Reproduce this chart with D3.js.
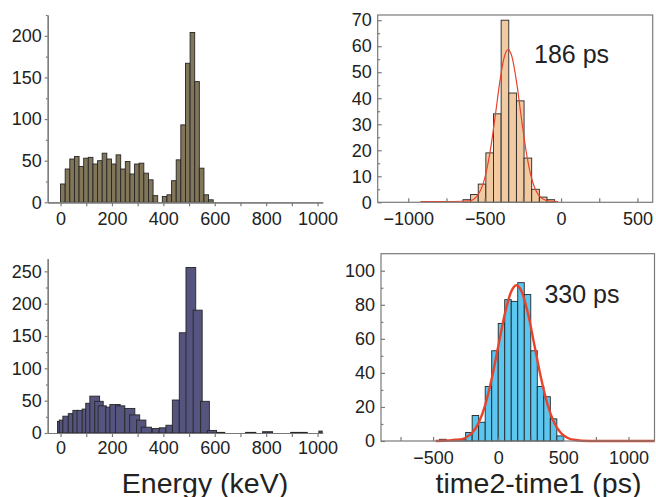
<!DOCTYPE html>
<html>
<head>
<meta charset="utf-8">
<script src="https://cdn.jsdelivr.net/npm/d3@7"></script>
<style>
  body { margin: 0; background: #fff; }
  svg { display: block; font-family: "Liberation Sans", Arial, sans-serif; }
</style>
</head>
<body>
<div id="chart"></div>
<script>
// ---- data ----
// top left: energy histogram, 18 keV bins starting at 0
const energyTopStart = 0;
const energyTopBin = 18;
const energyTopCounts = [22, 40, 52, 55, 43, 53, 54, 46, 50, 59, 52, 46, 57, 40, 49, 34, 46, 47, 35, 27, 8,
  0, 7, 9, 26, 51, 93, 167, 204, 145, 41, 9, 3];

// bottom left: energy histogram with uneven, overlapping bins (keV)
const energyBotLo = [-12, -5, 9, 30, 48, 64, 84, 98, 114, 133, 146, 176, 192, 214, 250, 269, 296, 314,
  358, 384, 410, 435, 462, 488, 516, 545, 571, 607, 720, 786, 895, 1005];
const energyBotHi = [0, 10, 30, 49, 68, 85, 100, 116, 152, 166, 178, 194, 232, 250, 289, 308, 332, 354,
  384, 410, 435, 462, 490, 526, 551, 579, 607, 639, 760, 825, 960, 1018];
const energyBotCounts = [18, 20, 26, 30, 35, 35, 37, 46, 57, 49, 42, 40, 44, 42, 38, 28, 20, 9,
  7, 8, 12, 51, 155, 256, 190, 49, 4, 1, 1, 2, 1, 3];

// top right: time difference histogram, 50 ps bins
const timeTopStart = -642;
const timeTopBin = 50;
const timeTopCounts = [1, 3, 7, 19, 34, 70, 42, 39, 17, 5, 2, 1];
const fitTopX = [-920, -700, -600, -550, -500, -460, -430, -400, -375, -346, -320, -290, -260, -230, -200, -150, -100, -50, -20];
const fitTopY = [0.3, 0.3, 0.6, 2.4, 9.1, 21, 33.5, 46.6, 55, 58.8, 55.7, 45.8, 32.6, 20.2, 10.9, 3, 0.8, 0.35, 0.3];
const fwhmTop = '186 ps';

// bottom right: time difference histogram, 50 ps bins
const timeBotStart = -450;
const timeBotBin = 50;
const timeBotCounts = [1, 0, 1, 1, 5, 15, 11, 32, 53, 69, 83, 82, 93, 86, 53, 32, 26, 13, 3];
const fitBotX = [-480, -300, -250, -200, -150, -100, -50, 0, 50, 100, 140, 180, 230, 280, 330, 380, 430, 480, 530, 580, 700, 1200];
const fitBotY = [0, 0.7, 1.9, 4.8, 10.7, 21.1, 36.5, 55.5, 74.4, 87.8, 91.5, 87.8, 74.4, 55.5, 36.5, 21.1, 10.7, 4.8, 1.9, 0.7, 0, 0];
const fwhmBot = '330 ps';

// axis ticks
const energyTicks = [0, 200, 400, 600, 800, 1000];
const energyMinor = [100, 300, 500, 700, 900];
const timeTopTicks = [-1000, -500, 0, 500];
const timeTopMinor = [-750, -250, 250];
const timeBotTicks = [-500, 0, 500, 1000];
const timeBotMinor = [-750, -250, 250, 750];

const W = 656;
const H = 497;
const axisColor = '#7a7a7a';
const textColor = '#222';
const fontSize = 18;

const svg = d3.select('#chart').append('svg')
  .attr('width', W)
  .attr('height', H);

function makeBins(start, width, counts) {
  return counts.map((c, i) => ({ lo: start + i * width, hi: start + (i + 1) * width, c }));
}

function drawPanel(p) {
  const x = d3.scaleLinear().domain(p.xDomain).range([p.left, p.right]);
  const y = d3.scaleLinear().domain(p.yDomain).range([p.bottom, p.top]);
  const g = svg.append('g');
  const tick = p.framed ? -4 : 4;
  const ytick = p.framed ? -4 : 3;

  // bars
  g.append('g').selectAll('rect')
    .data(p.bins.filter(d => d.c > 0))
    .join('rect')
    .attr('x', d => x(d.lo))
    .attr('y', d => y(d.c))
    .attr('width', d => x(d.hi) - x(d.lo))
    .attr('height', d => y(0) - y(d.c))
    .style('fill', p.fill)
    .style('stroke', '#262626')
    .style('stroke-width', 0.9);

  // fit curve
  if (p.fitX) {
    const line = d3.line()
      .curve(d3.curveMonotoneX)
      .x(d => x(d[0]))
      .y(d => y(d[1]));
    g.append('path')
      .attr('d', line(p.fitX.map((v, i) => [v, p.fitY[i]])))
      .style('fill', 'none')
      .style('stroke', '#e8432b')
      .style('stroke-width', p.fitWidth);
  }

  if (p.framed) {
    g.append('rect')
      .attr('x', p.left).attr('y', p.top)
      .attr('width', p.right - p.left).attr('height', p.bottom - p.top)
      .style('fill', 'none')
      .style('stroke', axisColor)
      .style('stroke-width', 1.2);
  }

  // x axis
  g.append('g')
    .attr('transform', `translate(0,${p.bottom})`)
    .call(d3.axisBottom(x).tickValues(p.xTicks).tickSizeInner(tick).tickSizeOuter(0)
      .tickPadding(p.xPad).tickFormat(d3.format('d')));
  g.append('g')
    .attr('transform', `translate(0,${p.bottom})`)
    .call(d3.axisBottom(x).tickValues(p.xMinor).tickSizeInner(tick).tickSizeOuter(0).tickFormat(''));

  // y axis
  g.append('g')
    .attr('transform', `translate(${p.left},0)`)
    .call(d3.axisLeft(y).tickValues(p.yTicks).tickSizeInner(ytick).tickSizeOuter(0)
      .tickPadding(p.yPad).tickFormat(d3.format('d')));
  g.append('g')
    .attr('transform', `translate(${p.left},0)`)
    .call(d3.axisLeft(y).tickValues(p.yMinor).tickSizeInner(ytick * 0.6).tickSizeOuter(0).tickFormat(''));

  g.selectAll('.domain, .tick line')
    .style('stroke', axisColor)
    .style('stroke-width', 1.2);
  g.selectAll('.tick text')
    .style('fill', textColor)
    .style('font-size', `${fontSize}px`)
    .style('font-family', '"Liberation Sans", Arial, sans-serif');
  if (p.framed) g.selectAll('.domain').remove();

  if (p.label) {
    g.append('text')
      .attr('x', x(p.label[0]))
      .attr('y', y(p.label[1]))
      .style('font-size', '25px')
      .style('fill', textColor)
      .text(p.label[2]);
  }
  return { x, y };
}

drawPanel({
  left: 47.7, right: 322.7, top: 15, bottom: 202.3,
  xDomain: [-50, 1020], yDomain: [0, 225],
  bins: makeBins(energyTopStart, energyTopBin, energyTopCounts),
  fill: '#81765a',
  xTicks: energyTicks, xMinor: energyMinor, xPad: 6.2,
  yTicks: d3.range(0, 201, 50), yMinor: d3.range(25, 226, 50), yPad: 3,
  framed: false,
});

drawPanel({
  left: 47.7, right: 322.7, top: 258.4, bottom: 433,
  xDomain: [-50, 1020], yDomain: [0, 270],
  bins: energyBotLo.map((lo, i) => ({ lo, hi: energyBotHi[i], c: energyBotCounts[i] })),
  fill: '#54547e',
  xTicks: energyTicks, xMinor: energyMinor, xPad: 3.8,
  yTicks: d3.range(0, 251, 50), yMinor: d3.range(25, 251, 50), yPad: 3,
  framed: false,
});

drawPanel({
  left: 377.7, right: 652.7, top: 15, bottom: 202.3,
  xDomain: [-1200, 600], yDomain: [0, 72],
  bins: makeBins(timeTopStart, timeTopBin, timeTopCounts),
  fill: '#f2caa2',
  fitX: fitTopX, fitY: fitTopY, fitWidth: 1.2,
  xTicks: timeTopTicks, xMinor: timeTopMinor, xPad: 10.2,
  yTicks: d3.range(0, 71, 10), yMinor: d3.range(5, 71, 10), yPad: 6,
  framed: true,
  label: [-177, 53.5, fwhmTop],
});

drawPanel({
  left: 381, right: 654.5, top: 253.7, bottom: 441,
  xDomain: [-900, 1200], yDomain: [0, 110],
  bins: makeBins(timeBotStart, timeBotBin, timeBotCounts),
  fill: '#5bc6ef',
  fitX: fitBotX, fitY: fitBotY, fitWidth: 2.4,
  xTicks: timeBotTicks, xMinor: timeBotMinor, xPad: 9.8,
  yTicks: d3.range(0, 101, 20), yMinor: d3.range(10, 101, 20), yPad: 6,
  framed: true,
  label: [355, 81, fwhmBot],
});

// axis titles
svg.append('text')
  .attr('x', 205).attr('y', 492.5)
  .attr('text-anchor', 'middle')
  .style('font-size', '28.5px')
  .style('fill', textColor)
  .text('Energy (keV)');

svg.append('text')
  .attr('x', 538.5).attr('y', 492.5)
  .attr('text-anchor', 'middle')
  .style('font-size', '28.5px')
  .style('fill', textColor)
  .text('time2-time1 (ps)');
</script>
</body>
</html>
